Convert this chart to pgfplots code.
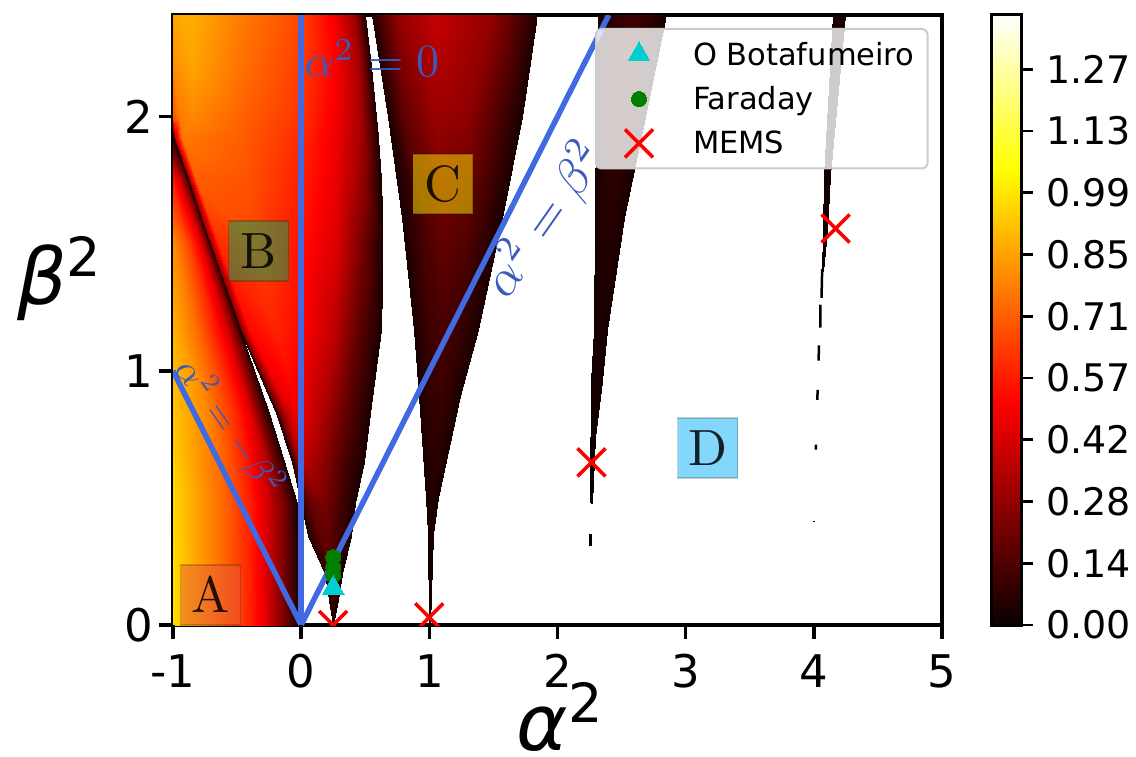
\documentclass[border=0pt]{standalone}
\usepackage[no-math]{fontspec}
\setmainfont{DejaVu Sans}
\usepackage{pgfplots}
\pgfplotsset{compat=1.18}
\usepackage{pgfplotstable}
\definecolor{rblue}{RGB}{65,105,225}
\definecolor{txtblue}{RGB}{60,90,185}
\definecolor{mcyan}{RGB}{0,206,209}
\definecolor{mgreen}{RGB}{0,128,0}
\newcommand{\fs}[1]{\fontsize{#1}{#1}\selectfont}
\pgfplotsset{colormap={myhot}{rgb(0pt)=(0.0416,0,0) rgb(365pt)=(1,0,0) rgb(746pt)=(1,1,0) rgb(1000pt)=(1,1,1)}}
\pgfplotstableread{
x y v
-1 0 .97
-.6 0 .72
-.4 0 .58
-.28 0 .45
-.12 0 .2
-.02 0 .03
-1 .48 .96
-.6 .48 .72
-.4 .48 .57
-.28 .48 .44
-.12 .48 .2
-.03 .48 .03
-1 .835 .92
-.72 .835 .78
-.5 .835 .58
-.4 .835 .45
-.31 .835 .2
-.25 .835 .03
-1 1.16 .88
-.82 1.16 .74
-.66 1.16 .55
-.58 1.16 .42
-.51 1.16 .2
-.48 1.16 .03
-1 1.5 .8
-.9 1.5 .68
-.8 1.5 .5
-.76 1.5 .35
-.73 1.5 .18
-.715 1.5 .03
-1 1.75 .55
-.96 1.75 .45
-.92 1.75 .3
-.9 1.75 .2
-.89 1.75 .1
-.885 1.75 .03
-1 1.92 .03
-1 1.92 .03
-1 1.92 .03
-1 1.92 .03
-1 1.92 .03
-1 1.92 .03
}\regionL
\pgfplotstableread{
x y v
.25 0 .03
.25 0 .03
.25 0 .03
.25 0 .03
.25 0 .03
.25 0 .03
.25 0 .03
.25 0 .03
.217 .1 .03
.222 .1 .05
.23 .1 .08
.24 .1 .1
.25 .1 .11
.26 .1 .1
.275 .1 .06
.29 .1 .03
.185 .2 .03
.195 .2 .06
.21 .2 .1
.23 .2 .13
.25 .2 .15
.27 .2 .13
.295 .2 .08
.32 .2 .03
.05 .35 .03
.07 .35 .07
.09 .35 .11
.12 .35 .15
.15 .35 .18
.22 .35 .18
.3 .35 .1
.39 .35 .03
0 .48 .03
.01 .48 .08
.03 .48 .13
.06 .48 .18
.09 .48 .2
.18 .48 .23
.3 .48 .13
.42 .48 .03
-.07 .64 .03
-.05 .64 .15
-.03 .64 .25
-.01 .64 .33
.02 .64 .36
.16 .64 .28
.32 .64 .14
.49 .64 .03
-.2 .835 .03
-.17 .835 .2
-.12 .835 .38
-.06 .835 .46
-.02 .835 .48
.18 .835 .33
.36 .835 .17
.534 .835 .03
-.475 1.16 .03
-.46 1.16 .28
-.41 1.16 .52
-.2 1.16 .58
-.02 1.16 .53
.25 1.16 .38
.44 1.16 .18
.62 1.16 .03
-.71 1.5 .03
-.70 1.5 .3
-.65 1.5 .6
-.35 1.5 .65
-.02 1.5 .55
.28 1.5 .43
.46 1.5 .24
.635 1.5 .03
-.88 1.75 .03
-.87 1.75 .35
-.82 1.75 .7
-.42 1.75 .68
-.02 1.75 .58
.28 1.75 .46
.48 1.75 .28
.62 1.75 .03
-1 1.92 .03
-.985 1.92 .4
-.93 1.92 .76
-.45 1.92 .7
-.02 1.92 .6
.28 1.92 .47
.48 1.92 .3
.6 1.92 .04
-1 2 .68
-.95 2 .76
-.85 2 .79
-.45 2 .71
-.02 2 .62
.28 2 .48
.47 2 .32
.585 2 .04
-1 2.2 .8
-.95 2.2 .82
-.85 2.2 .85
-.45 2.2 .74
-.02 2.2 .64
.28 2.2 .49
.45 2.2 .32
.545 2.2 .04
-1 2.4 .85
-.95 2.4 .86
-.85 2.4 .87
-.45 2.4 .76
-.02 2.4 .66
.26 2.4 .49
.42 2.4 .3
.495 2.4 .04
}\regionB
\pgfplotstableread{
x y v
.995 0 .01
.998 0 .01
1 0 .01
1.002 0 .01
1.005 0 .01
.987 .36 .02
1 .36 .03
1.005 .36 .03
1.015 .36 .03
1.026 .36 .02
.975 .5 .02
1 .5 .04
1.02 .5 .05
1.045 .5 .04
1.065 .5 .02
.917 .9 .03
1 .9 .08
1.08 .9 .1
1.17 .9 .07
1.242 .9 .03
.877 1.16 .03
.98 1.16 .1
1.1 1.16 .13
1.25 1.16 .09
1.377 1.16 .03
.79 1.6 .03
.95 1.6 .14
1.1 1.6 .2
1.3 1.6 .16
1.57 1.6 .03
.675 2 .03
.8 2 .18
1.05 2 .3
1.3 2 .27
1.72 2 .03
.55 2.4 .05
.75 2.4 .28
1.05 2.4 .39
1.5 2.4 .28
1.837 2.4 .04
}\regionC
\pgfplotstableread{
x y v
2.26 .48 .01
2.263 .48 .01
2.265 .48 .01
2.267 .48 .01
2.27 .48 .01
2.26 .74 .01
2.27 .74 .01
2.275 .74 .01
2.28 .74 .01
2.29 .74 .01
2.265 .96 .02
2.285 .96 .02
2.3 .96 .02
2.32 .96 .02
2.344 .96 .02
2.285 1.16 .02
2.31 1.16 .03
2.335 1.16 .03
2.36 1.16 .03
2.39 1.16 .02
2.295 1.6 .03
2.35 1.6 .05
2.4 1.6 .06
2.46 1.6 .05
2.52 1.6 .03
2.3 2 .03
2.38 2 .06
2.49 2 .09
2.58 2 .06
2.68 2 .03
2.313 2.4 .03
2.45 2.4 .08
2.58 2.4 .11
2.71 2.4 .08
2.843 2.4 .03
}\regionE
\pgfplotstableread{
x y v
4.06 1.39 .01
4.065 1.39 .01
4.07 1.39 .01
4.07 1.55 .01
4.085 1.55 .02
4.1 1.55 .01
4.083 1.77 .01
4.105 1.77 .02
4.13 1.77 .01
4.146 2.4 .02
4.195 2.4 .04
4.247 2.4 .02
}\regionF
\pgfplotstableread{
x y v
0 0 0
1 0 0
0 .51 .51
1 .51 .51
0 1.04 1.04
1 1.04 1.04
0 1.395 1.395
1 1.395 1.395
}\regionBar
\begin{document}
\begin{tikzpicture}
\path[use as bounding box] (-173pt,-131pt) rectangle (963pt,625pt);
\begin{axis}[
  at={(0pt,0pt)}, anchor=south west,
  scale only axis, width=769pt, height=610pt,
  xmin=-1, xmax=5, ymin=0, ymax=2.4,
  xtick={-1,0,1,2,3,4,5}, xticklabels={-1,0,1,2,3,4,5},
  ytick={0,1,2}, yticklabels={0,1,2},
  tick align=outside, xtick pos=bottom, ytick pos=left,
  major tick length=14pt,
  clip marker paths=true,
  axis line style={line width=4pt,black},
  xticklabel style={font=\fs{45}, yshift=-12pt},
  yticklabel style={font=\fs{45}, xshift=-2pt},
  xlabel={\fs{78}\itshape α\raisebox{28pt}{\fs{54}\upshape 2}},
  ylabel={\fs{78}\itshape β\raisebox{28pt}{\fs{54}\upshape 2}},
  xlabel style={at={(axis description cs:0.503,-0.205)},anchor=base},
  ylabel style={at={(axis description cs:-0.148,0.525)},anchor=base,rotate=-90},
  point meta min=0, point meta max=1.395,
  legend style={
    font=\fs{30.5}, at={(0.5488,0.9787)}, anchor=north west,
    draw=black!20, line width=2pt, fill=white, fill opacity=.8, text opacity=1, draw opacity=1,
    rounded corners=5pt, row sep=16pt, inner xsep=11pt, inner ysep=11pt,
  },
  legend cell align=left,
  legend image code/.code={\path (0pt,0pt) (82pt,0pt); \draw[#1,sharp corners,opacity=1] plot coordinates {(31pt,0pt)};},
]
\addplot[surf,shader=interp,forget plot,mesh/cols=6,mesh/rows=7,point meta=explicit] table[x=x,y=y,meta=v] {\regionL};
\addplot[surf,shader=interp,forget plot,mesh/cols=8,mesh/rows=14,point meta=explicit] table[x=x,y=y,meta=v] {\regionB};
\addplot[surf,shader=interp,forget plot,mesh/cols=5,mesh/rows=8,point meta=explicit] table[x=x,y=y,meta=v] {\regionC};
\addplot[surf,shader=interp,forget plot,mesh/cols=5,mesh/rows=7,point meta=explicit] table[x=x,y=y,meta=v] {\regionE};
\addplot[surf,shader=interp,forget plot,mesh/cols=3,mesh/rows=4,point meta=explicit] table[x=x,y=y,meta=v] {\regionF};
% thin slivers
\addplot[forget plot,line width=2.5pt,black] coordinates {(2.262,.48) (2.262,.74)};
\addplot[forget plot,line width=2.5pt,black] coordinates {(2.258,.31) (2.258,.36)};
\addplot[forget plot,line width=2.5pt,black] coordinates {(4.06,1.287) (4.065,1.40)};
\addplot[forget plot,line width=2.5pt,black] coordinates {(4.05,1.17) (4.052,1.26)};
\addplot[forget plot,line width=2.5pt,black] coordinates {(4.037,1.04) (4.04,1.10)};
\addplot[forget plot,line width=2.5pt,black] coordinates {(4.027,.886) (4.03,.925)};
\addplot[forget plot,line width=2.5pt,black] coordinates {(4.016,.69) (4.017,.71)};
\addplot[forget plot,line width=1.5pt,black] coordinates {(4.003,.405) (4.003,.41)};
% blue lines
\addplot[forget plot,line width=5.5pt,rblue] coordinates {(-1,1) (0,0) (2.4,2.4)};
\addplot[forget plot,line width=5.5pt,rblue] coordinates {(0,0) (0,2.4)};
% points
\addplot[only marks,mark=triangle*,mark size=12.5pt,color=mcyan,mark options={draw=mcyan,fill=mcyan,line width=0pt}] coordinates {(.25,.145)};
\addlegendentry{O Botafumeiro}
\addplot[only marks,mark=*,mark size=7.5pt,color=mgreen,mark options={draw=mgreen,fill=mgreen,line width=0pt}] coordinates {(.25,.267) (.25,.228) (.25,.197)};
\addlegendentry{Faraday}
\addplot[only marks,mark=x,mark size=19.8pt,red,mark options={line width=3.5pt}] coordinates {(.25,0) (1,.03) (2.265,.64) (4.17,1.56)};
\addlegendentry{MEMS\rule[-15pt]{0pt}{1pt}}
\addplot[forget plot,only marks,mark=triangle*,mark size=12.5pt,color=mcyan,mark options={draw=mcyan,fill=mcyan,line width=0pt}] coordinates {(.25,.145)};
% annotations
\node[anchor=base west,txtblue,inner sep=0pt,scale=4.6] at (axis cs:.02,2.157) {$\alpha^2=0$};
\node[rotate=-55,txtblue,inner sep=0pt,scale=3.7] at (axis cs:-.558,.776) {$\alpha^2=-\beta^2$};
\node[rotate=55,txtblue,inner sep=0pt,scale=5] at (axis cs:1.905,1.595) {$\alpha^2=\beta^2$};
\node[fill={rgb,255:red,230;green,90;blue,60},draw=black,fill opacity=.5,draw opacity=.2,text opacity=.85,line width=1.5pt,minimum size=11.76pt,inner sep=0pt,scale=5.1] at (axis cs:-.706,.118) {$\mathrm{A}$};
\node[fill={rgb,255:red,0;green,170;blue,90},draw=black,fill opacity=.5,draw opacity=.2,text opacity=.85,line width=1.5pt,minimum size=11.76pt,inner sep=0pt,scale=5.1] at (axis cs:-.332,1.472) {$\mathrm{B}$};
\node[fill={rgb,255:red,255;green,240;blue,0},draw=black,fill opacity=.5,draw opacity=.2,text opacity=.85,line width=1.5pt,minimum size=11.76pt,inner sep=0pt,scale=5.1] at (axis cs:1.104,1.736) {$\mathrm{C}$};
\node[fill={rgb,255:red,5;green,175;blue,245},draw=black,fill opacity=.5,draw opacity=.2,text opacity=.85,line width=1.5pt,minimum size=11.76pt,inner sep=0pt,scale=5.1] at (axis cs:3.171,.697) {$\mathrm{D}$};
\end{axis}
\begin{axis}[
  at={(818pt,0pt)}, anchor=south west,
  scale only axis, width=30pt, height=610pt,
  xmin=0, xmax=1, ymin=0, ymax=1.395,
  xtick=\empty,
  ytick={0,.1412,.2824,.4236,.5648,.706,.8472,.9884,1.1296,1.2708},
  yticklabels={0.00,0.14,0.28,0.42,0.57,0.71,0.85,0.99,1.13,1.27},
  yticklabel style={font=\fs{38},xshift=10pt},
  tick align=outside, ytick pos=right, yticklabel pos=right,
  major tick length=12pt,
  axis line style={line width=3pt,black},
  axis on top,
  point meta min=0, point meta max=1.395,
]
\addplot[surf,shader=interp,mesh/cols=2,mesh/rows=4,point meta=explicit] table[x=x,y=y,meta=v] {\regionBar};
\end{axis}
\foreach \k in {0,...,6} \draw[line width=3.5pt,black] ({\k*128.17pt},0pt) -- ++(0pt,-14pt);
\foreach \k in {0,1,2} \draw[line width=3.5pt,black] (0pt,{\k*254.17pt}) -- ++(-14pt,0pt);
\foreach \k in {0,...,9} \draw[line width=2.8pt,black] (848pt,{\k*61.74pt}) -- ++(12pt,0pt);
\end{tikzpicture}
\end{document}
